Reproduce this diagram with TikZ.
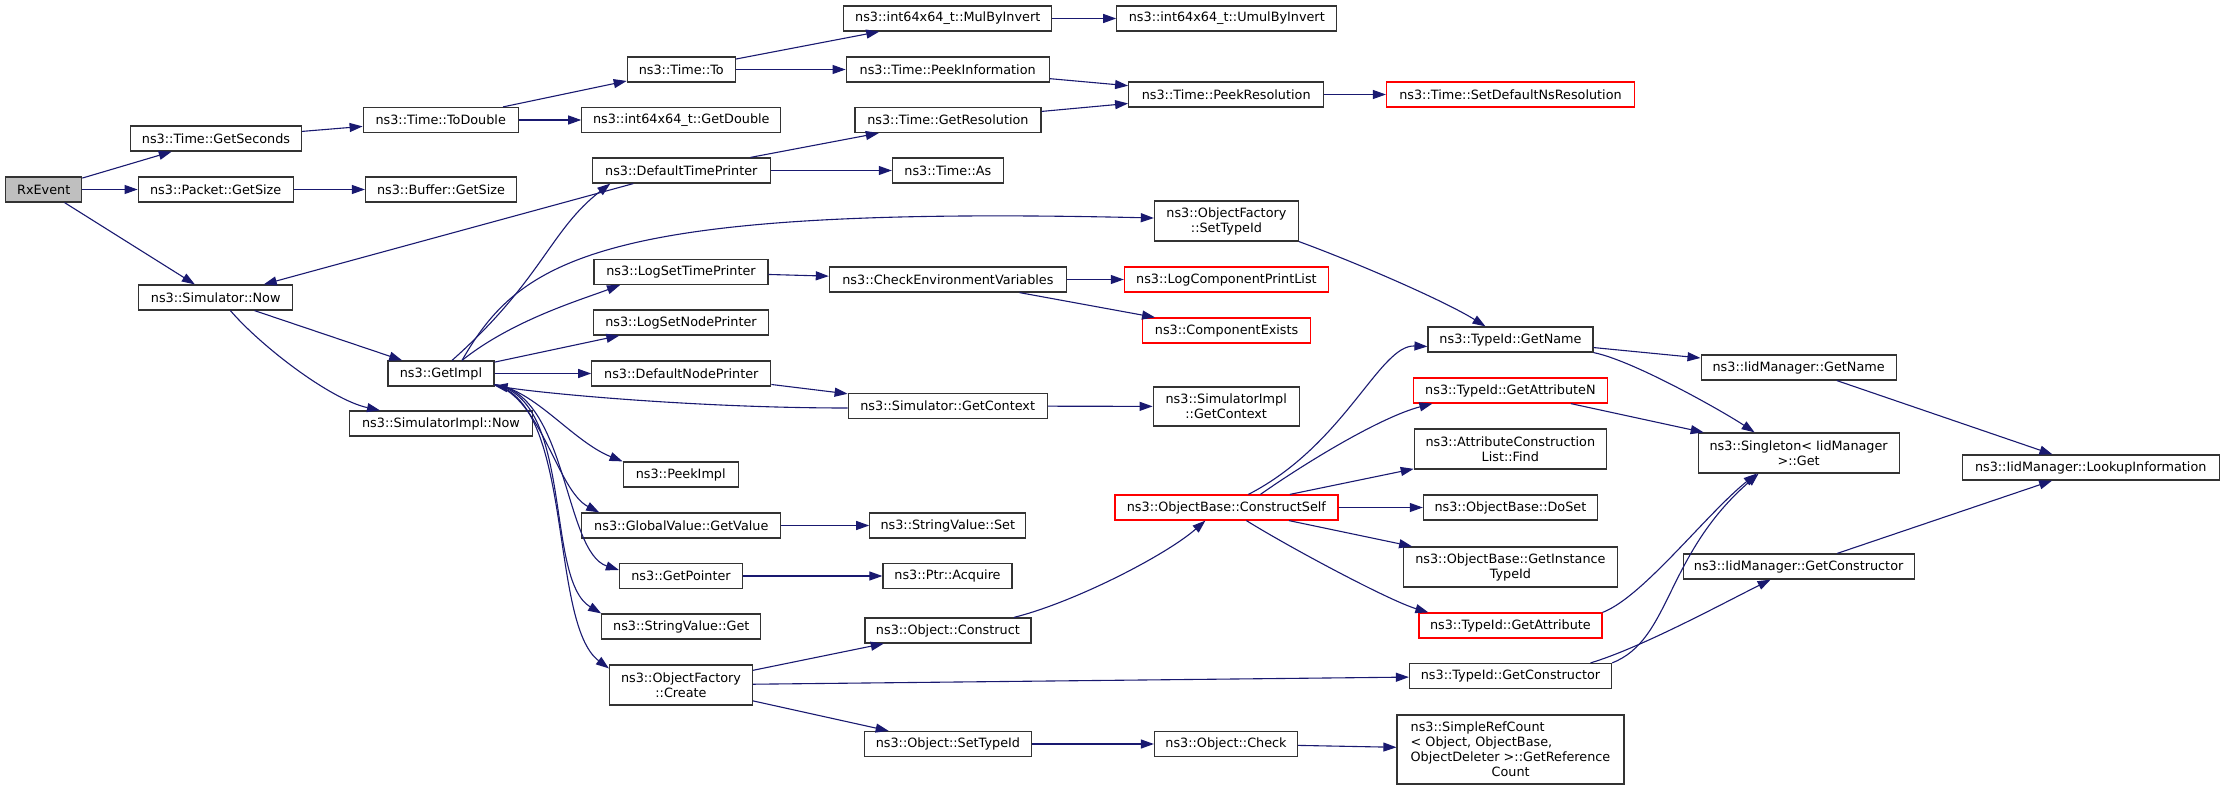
\documentclass[tikz,border=0pt]{standalone}
\usepackage{fontspec}
\newfontfamily\graphfont{DejaVu Sans}
\usetikzlibrary{arrows.meta}
\definecolor{edgeblue}{HTML}{191970}
\definecolor{rootgray}{HTML}{BFBFBF}

\begin{document}
\begin{tikzpicture}[x=1pt, y=-1pt,
        func/.style={draw=black!80, line width=1.2pt, fill=white, inner sep=0pt, minimum height=25pt,
            align=center, font=\graphfont\fontsize{12.8}{15}\selectfont},
        redfunc/.style={func, draw=red},
        call/.style={draw=edgeblue, line width=1.1pt, -{Triangle[length=13pt, width=9pt]}}]
        \useasboundingbox (0, 0) rectangle (2224, 789);

        \node (rx) at (43.7, 189.5) [func, fill=rootgray, minimum width=76] {RxEvent};

        \node (getsec) at (216, 138.5) [func, minimum width=171] {ns3::Time::GetSeconds};
        \node (pktsize) at (215.7, 189.5) [func, minimum width=155] {ns3::Packet::GetSize};
        \node (simnow) at (215.7, 297.5) [func, minimum width=154] {ns3::Simulator::Now};

        \node (todouble) at (440.7, 120) [func, minimum width=155] {ns3::Time::ToDouble};
        \node (bufsize) at (441, 189.5) [func, minimum width=151] {ns3::Buffer::GetSize};
        \node (getimpl) at (441, 373.5) [func, minimum width=106] {ns3::GetImpl};
        \node (simimplnow) at (441, 423.5) [func, minimum width=183] {ns3::SimulatorImpl::Now};

        \node (timeto) at (681.3, 69.5) [func, minimum width=108] {ns3::Time::To};
        \node (getdouble) at (681.3, 120) [func, minimum width=199] {ns3::int64x64\_t::GetDouble};
        \node (dtp) at (681.3, 170.5) [func, minimum width=178] {ns3::DefaultTimePrinter};
        \node (logtime) at (681, 272) [func, minimum width=174] {ns3::LogSetTimePrinter};
        \node (lognode) at (681, 322.5) [func, minimum width=175] {ns3::LogSetNodePrinter};
        \node (dnp) at (681.3, 373.5) [func, minimum width=179] {ns3::DefaultNodePrinter};
        \node (peekimpl) at (680.7, 474.5) [func, minimum width=115] {ns3::PeekImpl};
        \node (getvalue) at (681.3, 525.5) [func, minimum width=199] {ns3::GlobalValue::GetValue};
        \node (getptr) at (681, 576) [func, minimum width=123] {ns3::GetPointer};
        \node (strget) at (681.3, 626.5) [func, minimum width=159] {ns3::StringValue::Get};
        \node (ofcreate) at (681, 685) [func, minimum width=143, minimum height=40] {ns3::ObjectFactory\\::Create};

        \node (mulinv) at (947.7, 18.5) [func, minimum width=208] {ns3::int64x64\_t::MulByInvert};
        \node (peekinfo) at (947.7, 69.5) [func, minimum width=203] {ns3::Time::PeekInformation};
        \node (getres) at (947.9, 120) [func, minimum width=186] {ns3::Time::GetResolution};
        \node (timeas) at (947.9, 170.5) [func, minimum width=111] {ns3::Time::As};
        \node (checkenv) at (947.9, 279.5) [func, minimum width=237] {ns3::CheckEnvironmentVariables};
        \node (getctx) at (947.7, 406) [func, minimum width=199] {ns3::Simulator::GetContext};
        \node (strset) at (947.8, 525.5) [func, minimum width=156] {ns3::StringValue::Set};
        \node (acquire) at (947.5, 576) [func, minimum width=129] {ns3::Ptr::Acquire};
        \node (construct) at (947.9, 630.5) [func, minimum width=166] {ns3::Object::Construct};
        \node (objsettid) at (947.9, 744) [func, minimum width=167] {ns3::Object::SetTypeId};

        \node (umulinv) at (1226.8, 18.5) [func, minimum width=220] {ns3::int64x64\_t::UmulByInvert};
        \node (peekres) at (1226.2, 94.5) [func, minimum width=195] {ns3::Time::PeekResolution};
        \node (oftid) at (1226.4, 221) [func, minimum width=144, minimum height=40] {ns3::ObjectFactory\\::SetTypeId};
        \node (logprint) at (1226.4, 279.5) [redfunc, minimum width=204] {ns3::LogComponentPrintList};
        \node (compexists) at (1226.6, 330.5) [redfunc, minimum width=168] {ns3::ComponentExists};
        \node (implctx) at (1226.2, 406.5) [func, minimum width=146, minimum height=39] {ns3::SimulatorImpl\\::GetContext};
        \node (constructself) at (1226.4, 507.5) [redfunc, minimum width=223] {ns3::ObjectBase::ConstructSelf};
        \node (objcheck) at (1226, 744) [func, minimum width=143] {ns3::Object::Check};

        \node (nsres) at (1510.5, 94.5) [redfunc, minimum width=248] {ns3::Time::SetDefaultNsResolution};
        \node (tidname) at (1510.5, 339.5) [func, minimum width=165] {ns3::TypeId::GetName};
        \node (attrn) at (1510.4, 390.5) [redfunc, minimum width=194] {ns3::TypeId::GetAttributeN};
        \node (attrfind) at (1510.3, 449) [func, minimum width=192, minimum height=40] {ns3::AttributeConstruction\\List::Find};
        \node (doset) at (1510.4, 507.5) [func, minimum width=174] {ns3::ObjectBase::DoSet};
        \node (insttid) at (1510.4, 567) [func, minimum width=214, minimum height=40] {ns3::ObjectBase::GetInstance\\TypeId};
        \node (getattr) at (1510.4, 625.5) [redfunc, minimum width=183] {ns3::TypeId::GetAttribute};
        \node (tidctor) at (1510.5, 676) [func, minimum width=202] {ns3::TypeId::GetConstructor};
        \node (refcount) at (1510.5, 749.5) [func, minimum width=227, minimum height=69, align=left]
            {ns3::SimpleRefCount\\< Object, ObjectBase,\\ObjectDeleter >::GetReference\\\hspace*{81pt}Count};

        \node (iidname) at (1798.6, 367.5) [func, minimum width=195] {ns3::IidManager::GetName};
        \node (singleton) at (1798.6, 453) [func, minimum width=201, minimum height=40] {ns3::Singleton< IidManager\\>::Get};
        \node (iidctor) at (1798.6, 566.5) [func, minimum width=231] {ns3::IidManager::GetConstructor};

        \node (lookup) at (2090.7, 467.5) [func, minimum width=257] {ns3::IidManager::LookupInformation};

        \foreach \a/\b in {rx/getsec, rx/pktsize, rx/simnow, getsec/todouble, pktsize/bufsize,
                todouble/timeto, todouble/getdouble, timeto/mulinv, timeto/peekinfo, mulinv/umulinv,
                peekinfo/peekres, getres/peekres, peekres/nsres, dtp/getres, dtp/timeas, dtp/simnow,
                simnow/getimpl, getimpl/lognode, getimpl/dnp, dnp/getctx, getctx/implctx,
                logtime/checkenv, checkenv/logprint, checkenv/compexists, getvalue/strset,
                getptr/acquire, ofcreate/construct, ofcreate/tidctor, ofcreate/objsettid,
                objsettid/objcheck, objcheck/refcount, constructself/attrfind, constructself/doset,
                constructself/insttid, tidname/iidname, attrn/singleton, iidname/lookup, iidctor/lookup}
            {\draw [call] (\a) -- (\b);}

        \draw [call] ([xshift=14.7pt]simnow.south) .. controls +(30, 35) and +(-50, -11) .. ([xshift=-61pt]simimplnow.north);
        \draw [call] ([xshift=11pt]getimpl.north) .. controls +(90, -80) and +(-60, 46) .. ([xshift=-71pt]dtp.south);
        \draw [call] ([xshift=21pt]getimpl.north) .. controls +(58, -101) and +(-555, -13) .. ([yshift=3pt]oftid.west);
        \draw [call] ([xshift=21pt]getimpl.north) .. controls +(50, -40) and +(-40, 15) .. ([xshift=-61pt]logtime.south);
        \draw [call] ([yshift=2pt]getimpl.south east) .. controls +(40, 5) and +(-50, -20) .. (peekimpl.north west);
        \draw [call] ([yshift=2pt]getimpl.south east) .. controls +(47, 14) and +(-42, -22) .. ([xshift=18pt]getvalue.north west);
        \draw [call] ([yshift=2pt]getimpl.south east) .. controls +(73, 9) and +(-55, -18) .. ([yshift=6pt]getptr.west);
        \draw [call] ([yshift=2pt]getimpl.south east) .. controls +(80, 15) and +(-57, -34) .. (strget.north west);
        \draw [call] ([yshift=2pt]getimpl.south east) .. controls +(80, 20) and +(-60, -45) .. ([yshift=-4pt]ofcreate.north west);
        \draw [call] ([yshift=-2pt]getctx.west) .. controls +(-150, 0) and +(50, 8) .. ([yshift=1pt]getimpl.south east);

        \draw [call] (oftid.south east) .. controls +(60, 22) and +(-40, -25) .. ([xshift=-25pt]tidname.north);
        \draw [call] ([xshift=66pt]construct.north) .. controls +(60, -15) and +(-40, 35) .. ([xshift=-21pt]constructself.south);
        \draw [call] ([xshift=22pt]constructself.north) .. controls +(97, -50) and +(-48, -2) .. ([yshift=-7pt]tidname.west);
        \draw [call] ([xshift=34pt]constructself.north) .. controls +(50, -35) and +(-50, 13) .. ([xshift=-78pt]attrn.south);
        \draw [call] ([xshift=20pt]constructself.south) .. controls +(40, 25) and +(-40, -12) .. ([xshift=-82pt]getattr.north);

        \draw [call] (tidname.south east) .. controls +(40, 8) and +(-30, -20) .. ([xshift=-44pt]singleton.north);
        \draw [call] (getattr.north east) .. controls +(40, -15) and +(-50, 40) .. ([xshift=-42pt]singleton.south);
        \draw [call] (tidctor.north east) .. controls +(59, -23) and +(-94, 82) .. ([xshift=-40pt]singleton.south);
        \draw [call] ([xshift=80pt]tidctor.north) .. controls +(50, -15) and +(-50, 25) .. ([xshift=-28pt]iidctor.south);
    \end{tikzpicture}
\end{document}
